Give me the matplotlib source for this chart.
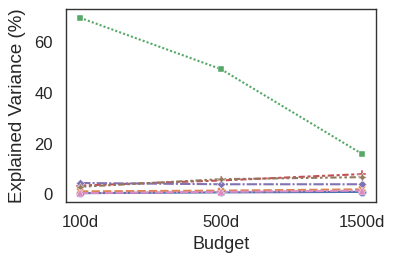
import pandas as pd
import seaborn as sns
import matplotlib.pyplot as plt

budgets = ["100d", "500d", "1500d"]
methods = ["A", "B", "C", "D", "E", "F", "G"]
values = {
    "A": [0.5, 0.8, 1.0],
    "B": [1.2, 1.5, 2.0],
    "C": [69.5, 49.3, 16.0],
    "D": [3.5, 5.5, 8.0],
    "E": [4.5, 4.0, 4.0],
    "F": [3.0, 6.0, 6.8],
    "G": [0.5, 1.0, 1.5],
}

rows = []
for m in methods:
    for b, v in zip(budgets, values[m]):
        rows.append({"Budget": b, "Explained Variance (%)": v, "method": m})
df = pd.DataFrame(rows)

sns.set_theme(style="white")
plt.rcParams["font.family"] = ["Liberation Sans", "DejaVu Sans"]

fig, ax = plt.subplots(figsize=(4.2, 2.65), dpi=100)
sns.lineplot(data=df, x="Budget", y="Explained Variance (%)", hue="method",
             style="method", markers=True, markersize=6, markeredgewidth=0.3,
             linewidth=1.5, ax=ax, legend=False)
for s in ax.spines.values():
    s.set_color("#333333")
    s.set_linewidth(1.0)
ax.tick_params(labelsize=12)
ax.set_xlabel("Budget", fontsize=13)
ax.set_ylabel("Explained Variance (%)", fontsize=13.5, labelpad=6)
fig.subplots_adjust(left=0.157, right=0.895, top=0.966, bottom=0.238)
fig.savefig("out.png")
